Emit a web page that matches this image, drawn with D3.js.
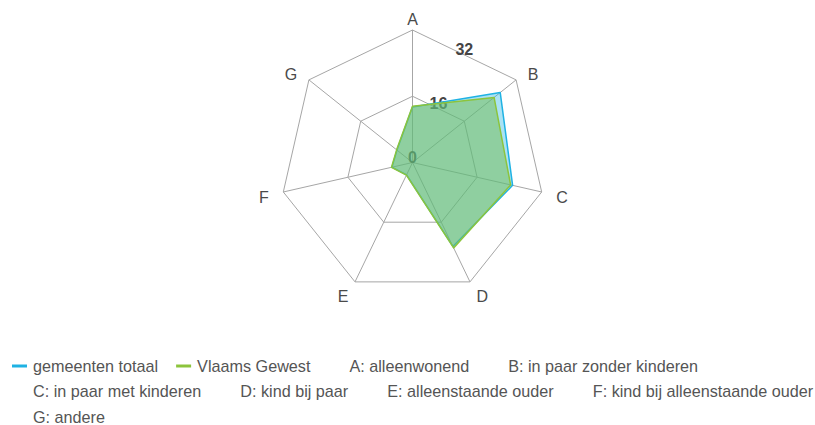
<!DOCTYPE html>
<html>
<head>
<meta charset="utf-8">
<script src="https://cdn.jsdelivr.net/npm/d3@7"></script>
<style>
  body { margin: 0; background: #fff; }
  text { font-family: "Liberation Sans", Arial, sans-serif; }
</style>
</head>
<body>
<svg id="chart" width="815" height="425"></svg>
<script>
// axis letters + what they mean
const axes = ["A", "B", "C", "D", "E", "F", "G"];
const axisNames = ["alleenwonend", "in paar zonder kinderen", "in paar met kinderen", "kind bij paar",
  "alleenstaande ouder", "kind bij alleenstaande ouder", "andere"];

// values (percent)
const gemeenten = [13.4, 27.1, 24.8, 22.5, 3.3, 5.1, 4.8];
const vlaams = [13.6, 25.2, 24.3, 22.9, 3.4, 5.2, 4.9];

const ringTicks = [0, 16, 32];

const seriesNames = ["gemeenten totaal", "Vlaams Gewest"];
const seriesColors = ["#1fb2e3", "#8cc43c"];

const svg = d3.select("#chart");
const cx = 412.5, cy = 162.5, R = 132.5;

const r = d3.scaleLinear().domain([0, 32]).range([0, R]);
const angle = d3.scalePoint().domain(axes).range([0, 2 * Math.PI * 6 / 7]);

const g = svg.append("g").attr("transform", `translate(${cx},${cy})`);

// grid rings
const ring = d3.lineRadial()
  .angle(a => angle(a.axis))
  .radius(a => r(a.v))
  .curve(d3.curveLinearClosed);

ringTicks.filter(t => t > 0).forEach(t => {
  g.append("path")
    .attr("d", ring(axes.map(a => ({ axis: a, v: t }))))
    .attr("fill", "none")
    .attr("stroke", "#a6a6a6")
    .attr("stroke-width", 1);
});

// spokes
axes.forEach(a => {
  const th = angle(a);
  g.append("line")
    .attr("x1", 0).attr("y1", 0)
    .attr("x2", r(32) * Math.sin(th))
    .attr("y2", -r(32) * Math.cos(th))
    .attr("stroke", "#a6a6a6")
    .attr("stroke-width", 1);
});

// tick values, sit at the middle of the A-B edge
const thB = angle("B");
ringTicks.forEach(t => {
  const mx = (r(t) * Math.sin(thB)) / 2;
  const my = (-r(t) + -r(t) * Math.cos(thB)) / 2;
  g.append("text")
    .attr("x", mx)
    .attr("y", my - 5.5)
    .attr("text-anchor", "middle")
    .attr("dominant-baseline", "central")
    .attr("font-size", "16px")
    .attr("font-weight", "bold")
    .attr("fill", "#444")
    .text(t);
});

// axis letters
axes.forEach(a => {
  const th = angle(a);
  const s = Math.sin(th), c = Math.cos(th);
  const px = (R + 15) * s;
  const py = -(R + 15) * c + 2.7 + 2.2 * c;
  g.append("text")
    .attr("x", px)
    .attr("y", py)
    .attr("text-anchor", Math.abs(s) < 0.1 ? "middle" : (s > 0 ? "start" : "end"))
    .attr("dominant-baseline", "central")
    .attr("font-size", "16px")
    .attr("fill", "#4a4a4a")
    .text(a);
});

// series areas
const area = d3.lineRadial()
  .angle((d, i) => angle(axes[i]))
  .radius(d => r(d))
  .curve(d3.curveLinearClosed);

g.append("path")
  .attr("d", area(gemeenten))
  .attr("fill", "rgba(31,178,227,0.38)")
  .attr("stroke", seriesColors[0])
  .attr("stroke-width", 1.5)
  .attr("stroke-linejoin", "round");

g.append("path")
  .attr("d", area(vlaams))
  .attr("fill", "rgba(118,190,82,0.52)")
  .attr("stroke", seriesColors[1])
  .attr("stroke-width", 1.5)
  .attr("stroke-linejoin", "round");

// legend, flows left to right and wraps
const legendItems = seriesNames.map((n, i) => ({ label: n, color: seriesColors[i] }))
  .concat(axes.map((a, i) => ({ label: `${a}: ${axisNames[i]}`, color: null })));

const legend = svg.append("g");
let lx = 12, row = 0;
const rowH = 25.5, legendTop = 366, maxX = 820;

legendItems.forEach(item => {
  const t = legend.append("text")
    .attr("font-size", "16.2px")
    .attr("fill", "#555")
    .text(item.label);
  const w = t.node().getComputedTextLength();
  if (lx + 21 + w > maxX) { row++; lx = 12; }
  const y = legendTop + row * rowH;
  if (item.color) {
    legend.append("line")
      .attr("x1", lx).attr("x2", lx + 15)
      .attr("y1", y).attr("y2", y)
      .attr("stroke", item.color)
      .attr("stroke-width", 3);
  }
  t.attr("x", lx + 21).attr("y", y + 5.5);
  lx += 21 + w + 18;
});
</script>
</body>
</html>
